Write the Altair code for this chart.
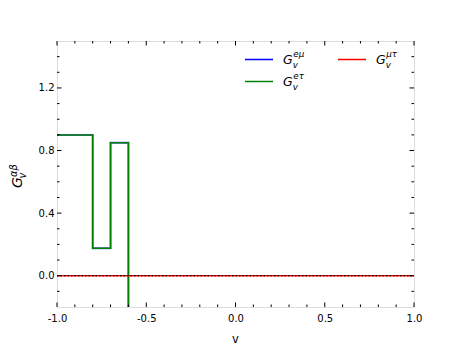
import altair as alt
import pandas as pd

# ---- data ----
v_steps = [-1.0, -0.8, -0.7, -0.6]          # step edges (step-after)
g_emu = [0.90, 0.175, 0.85, -1.0]            # G_v^{e mu}
g_etau = [0.90, 0.175, 0.85, -1.0]           # G_v^{e tau}
v_mutau = [-1.0, 1.0]
g_mutau = [0.0, 0.0]                          # G_v^{mu tau}
v_zero = [-1.0, 1.0]
g_zero = [0.0, 0.0]                           # dotted reference line

x_major = [-1.0, -0.5, 0.0, 0.5, 1.0]
x_minor = [-0.9, -0.8, -0.7, -0.6, -0.4, -0.3, -0.2, -0.1,
           0.1, 0.2, 0.3, 0.4, 0.6, 0.7, 0.8, 0.9]
y_major = [0.0, 0.4, 0.8, 1.2]
y_minor = [-0.1, 0.1, 0.2, 0.3, 0.5, 0.6, 0.7, 0.9, 1.0, 1.1, 1.3, 1.4]

series_names = ["eμ", "eτ", "μτ"]
series_colors = ["#0000ff", "#008000", "#ff0000"]

# ---- layout ----
W, H = 357, 266
FONT = "DejaVu Sans"
MAJ, MIN = 4.5, 2.5

xs = alt.Scale(domain=[-1.0, 1.0], nice=False, zero=False)
ys = alt.Scale(domain=[-0.2, 1.5], nice=False, zero=False)
xaxis = alt.Axis(values=x_major, tickSize=0, domain=False, grid=False, title=None,
                 labelFont=FONT, labelFontSize=10, labelColor="black", labelPadding=6,
                 labelExpr="datum.value < 0 ? '-' + format(abs(datum.value), '.1f') : format(datum.value, '.1f')",
                 labelFlush=False, labelOverlap=False)
yaxis = alt.Axis(values=y_major, tickSize=0, domain=False, grid=False, title=None,
                 labelFont=FONT, labelFontSize=10, labelColor="black", labelPadding=3,
                 format=".1f", labelOverlap=False)

X = lambda: alt.X("v:Q", scale=xs, axis=xaxis)
Y = lambda: alt.Y("g:Q", scale=ys, axis=yaxis)

def line(vs, gs, color, **kw):
    df = pd.DataFrame({"v": vs, "g": gs})
    return alt.Chart(df).mark_line(color=color, clip=True, **kw).encode(x=X(), y=Y())

layers = []
layers.append(line(v_steps, g_emu, series_colors[0], strokeWidth=2.0, opacity=0.6, interpolate="step-after"))
layers.append(line(v_steps, g_etau, series_colors[1], strokeWidth=1.5, interpolate="step-after"))
layers.append(line(v_mutau, g_mutau, series_colors[2], strokeWidth=1.5))
layers.append(line(v_zero, g_zero, "black", strokeWidth=1.2, strokeDash=[1.5, 2.0]))

# ---- inward ticks on all four sides ----
def xticks(vals, ln):
    df = pd.DataFrame({"v": vals})
    b = alt.Chart(df).mark_rule(color="black", strokeWidth=1).encode(
        x=X(), y=alt.value(H), y2=alt.value(H - ln))
    t = alt.Chart(df).mark_rule(color="black", strokeWidth=1).encode(
        x=X(), y=alt.value(0), y2=alt.value(ln))
    return [b, t]

def yticks(vals, ln):
    df = pd.DataFrame({"g": vals})
    l = alt.Chart(df).mark_rule(color="black", strokeWidth=1).encode(
        y=Y(), x=alt.value(0), x2=alt.value(ln))
    r = alt.Chart(df).mark_rule(color="black", strokeWidth=1).encode(
        y=Y(), x=alt.value(W), x2=alt.value(W - ln))
    return [l, r]

layers += xticks(x_major, MAJ) + xticks(x_minor, MIN)
layers += yticks(y_major, MAJ) + yticks(y_minor, MIN)

# ---- text helpers ----
one = pd.DataFrame({"a": [0]})

def txt(s, x, y, size, italic=True, angle=0, align="left", baseline="alphabetic"):
    return alt.Chart(one).mark_text(
        text=s, font=FONT, fontSize=size, fontStyle="italic" if italic else "normal",
        color="black", align=align, baseline=baseline, angle=angle
    ).encode(x=alt.value(x), y=alt.value(y))

def glabel(x, y, sup, size):
    s2 = size * 0.7
    return [txt("G", x, y, size),
            txt("v", x + size * 0.78, y + size * 0.36, s2),
            txt(sup, x + size * 0.82, y - size * 0.56, s2)]

# legend
leg_pos = [(188, 18.5), (188, 40.5), (281, 18.5)]
for (lx, ly), name, col in zip(leg_pos, series_names, series_colors):
    layers.append(alt.Chart(one).mark_rule(color=col, strokeWidth=1.5).encode(
        x=alt.value(lx), x2=alt.value(lx + 28), y=alt.value(ly)))
    layers += glabel(lx + 38, ly + 4, name, 12.5)

# y title (rotated)
ysz = 14
layers.append(txt("G", -35, 147, ysz, angle=270))
layers.append(txt("v", -31, 137.5, ysz * 0.7, angle=270))
layers.append(txt("αβ", -40.5, 136, ysz * 0.7, angle=270))

# x title
layers.append(txt("v", W / 2, 302, 11.5, italic=False, align="center"))

chart = alt.layer(*layers).properties(
    width=W, height=H,
    autosize=alt.AutoSizeParams(type="none"),
    padding={"left": 49, "top": 33, "right": 38, "bottom": 38},
).configure_view(stroke="black", strokeWidth=1).configure(background="white")

chart.save("out.html", embed_options={"renderer": "svg", "actions": False})
